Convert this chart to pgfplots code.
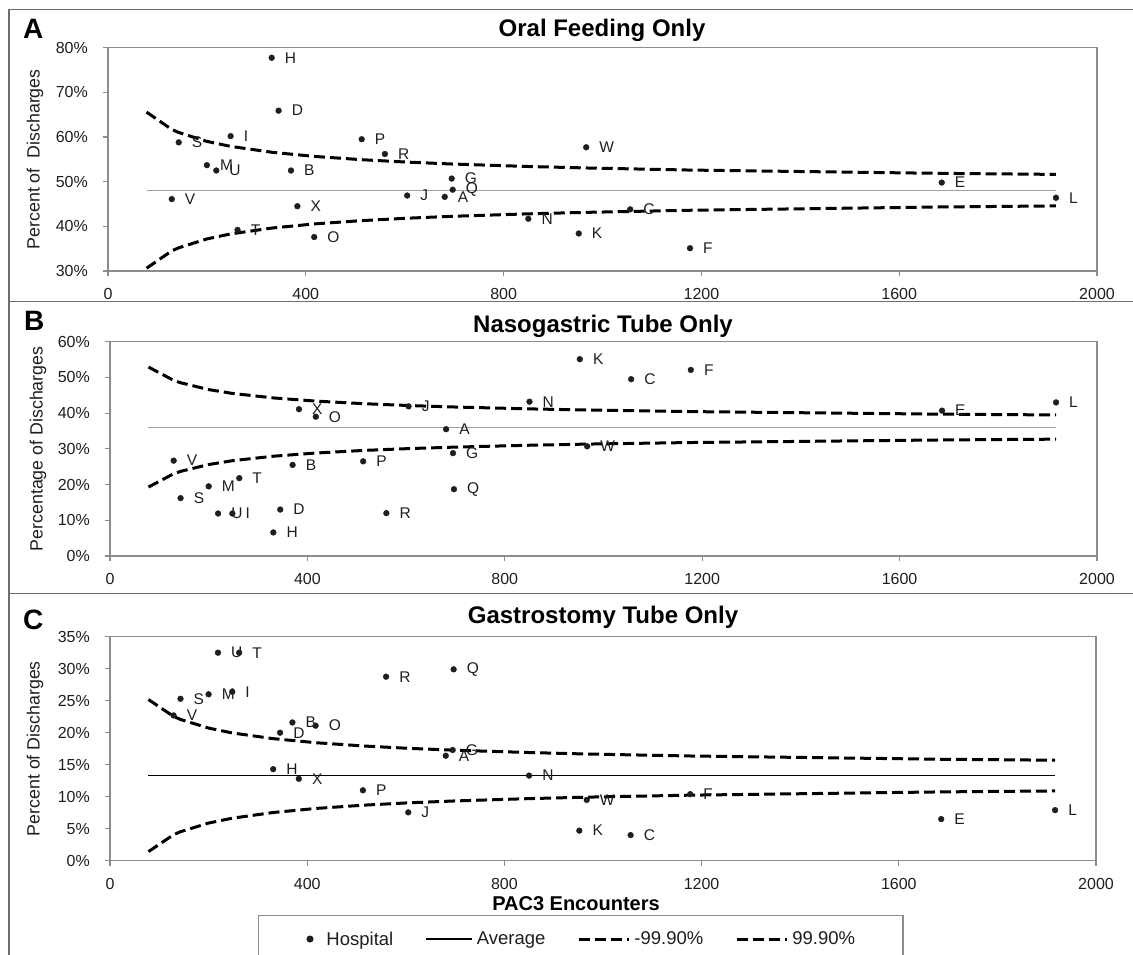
\documentclass[border=0pt]{standalone}
\usepackage{fontspec}
\setmainfont{Liberation Sans}
\usepackage{pgfplots}
\usepackage{pgfplotstable}
\pgfplotsset{compat=1.18}

\definecolor{axgray}{HTML}{8C8C8C}
\definecolor{framegray}{HTML}{6E6E6E}
\definecolor{avggray}{HTML}{A0A0A0}
\definecolor{ink}{HTML}{1E1E1E}

% hospital: encounters, % oral, % nasogastric, % gastrostomy
\pgfplotstableread{
lab n oral naso gastro
A 681 46.6 35.5 16.4
B 370 52.5 25.5 21.6
C 1056 43.8 49.5 4.0
D 345 65.9 13.0 20.0
E 1686 49.8 40.7 6.5
F 1177 35.1 52.1 10.4
G 695 50.7 28.8 17.3
H 331 77.75 6.6 14.3
I 248 60.2 11.9 26.4
J 605 46.9 41.9 7.55
K 952 38.4 55.1 4.7
L 1917 46.4 43.0 7.9
M 200 53.7 19.5 26.0
N 850 41.7 43.2 13.3
O 417 37.6 39.0 21.1
P 513 59.5 26.5 11.0
Q 697 48.2 18.7 29.9
R 560 56.2 12.0 28.75
S 143 58.8 16.2 25.3
T 262 39.2 21.8 32.5
U 219 52.5 11.9 32.5
V 129 46.1 26.7 22.7
W 967 57.7 30.7 9.5
X 383 44.5 41.1 12.8
}\hosp

% control limits (lower / upper) for each panel
\pgfplotstableread{
n aLo aHi bLo bHi cLo cHi
78 30.62 65.58 19.30 52.90 1.42 25.18
129 34.51 61.69 23.03 49.17 4.06 22.54
143 35.19 61.01 23.69 48.51 4.53 22.07
200 37.18 59.02 25.61 46.59 5.88 20.72
248 38.30 57.90 26.68 45.52 6.64 19.96
331 39.61 56.59 27.94 44.26 7.53 19.07
417 40.54 55.66 28.83 43.37 8.16 18.44
513 41.28 54.92 29.55 42.65 8.67 17.93
605 41.82 54.38 30.07 42.13 9.04 17.56
697 42.25 53.95 30.48 41.72 9.33 17.27
850 42.80 53.40 31.01 41.19 9.70 16.90
967 43.13 53.07 31.33 40.87 9.93 16.67
1177 43.60 52.60 31.77 40.43 10.24 16.36
1686 44.34 51.86 32.49 39.71 10.75 15.85
1917 44.57 51.63 32.71 39.49 10.90 15.70
}\lims

\pgfplotsset{
  panel/.style={
    scale only axis, clip=false,
    xmin=0, xmax=2000, xtick={0,400,800,1200,1600,2000},
    scaled ticks=false,
    /pgf/number format/1000 sep={},
    /pgf/number format/assume math mode=true,
    axis line style={draw=axgray, line width=1.3pt},
    tick style={draw=axgray, line width=1.2pt},
    major tick length=5pt, tick align=outside,
    xtick pos=bottom, ytick pos=left,
    ticklabel style={font=\fontsize{16}{19}\selectfont, text=ink},
    xticklabel style={anchor=north, inner sep=0pt, yshift=-12pt},
    yticklabel style={anchor=east, inner sep=0pt, xshift=-15pt},
    yticklabel={\pgfmathprintnumber{\tick}\%},
    ylabel style={font=\fontsize{17.8}{20}\selectfont, text=ink, anchor=center},
  },
  hosp/.style={only marks, mark=*, mark size=2.9pt, color=ink,
    nodes near coords, point meta=explicit symbolic,
    every node near coord/.append style={anchor=west, inner sep=0pt, xshift=13pt,
      font=\fontsize{15.5}{18}\selectfont, text=ink},
    legend image code/.code={\fill[ink] (0pt,0pt) circle (2.9pt);}},
  lim/.style={black, line width=3pt, dash pattern=on 11pt off 5pt, mark=none,
    legend image code/.code={\draw[##1] (0pt,0pt) -- (50pt,0pt);}},
  avg/.style={mark=none, legend image code/.code={\draw[##1] (0pt,0pt) -- (46pt,0pt);}},
}

\begin{document}
\begin{tikzpicture}
\useasboundingbox (0pt,0pt) rectangle (1133pt,954pt);

% panel A
\begin{axis}[panel, at={(108pt,683pt)}, anchor=south west,
  width=989pt, height=223.3pt,
  ymin=30, ymax=80, ytick={30,40,...,80},
  ylabel={Percent of\ \ Discharges},
  ylabel style={at={(axis description cs:-0.0738,0.5)}}]
\addplot[lim] table[x=n, y=aHi] {\lims};
\addplot[lim] table[x=n, y=aLo] {\lims};
\addplot[avg, avggray, line width=1pt] coordinates {(78,48.1) (1917,48.1)};
\addplot[hosp] table[x=n, y=oral, meta=lab] {\hosp};
\end{axis}

% panel B
\begin{axis}[panel, at={(110pt,398pt)}, anchor=south west,
  width=987pt, height=214.3pt,
  ymin=0, ymax=60, ytick={0,10,...,60},
  ylabel={Percentage of Discharges},
  ylabel style={at={(axis description cs:-0.0729,0.5)}}]
\addplot[lim] table[x=n, y=bHi] {\lims};
\addplot[lim] table[x=n, y=bLo] {\lims};
\addplot[avg, avggray, line width=1pt] coordinates {(78,36.1) (1917,36.1)};
\addplot[hosp] table[x=n, y=naso, meta=lab] {\hosp};
\end{axis}

% panel C
\begin{axis}[panel, at={(110pt,93.3pt)}, anchor=south west,
  width=986pt, height=224pt,
  ymin=0, ymax=35, ytick={0,5,...,35},
  ylabel={Percent of Discharges},
  ylabel style={at={(axis description cs:-0.0761,0.5)}},
  legend style={at={(axis description cs:0.1500,-0.2424)}, anchor=north west,
    draw=axgray, line width=1.2pt, font=\fontsize{18.5}{22}\selectfont, text=ink,
    inner xsep=48pt, inner ysep=16pt, nodes={inner sep=0pt},
    /tikz/every odd column/.append style={column sep=4pt},
    /tikz/every even column/.append style={column sep=32pt}},
  legend columns=4, reverse legend]
\addplot[lim] table[x=n, y=cHi] {\lims};
\addlegendentry{99.90\%}
\addplot[lim] table[x=n, y=cLo] {\lims};
\addlegendentry{-99.90\%}
\addplot[avg, black, line width=1.5pt] coordinates {(78,13.3) (1917,13.3)};
\addlegendentry{Average}
\addplot[hosp] table[x=n, y=gastro, meta=lab] {\hosp};
\addlegendentry{\hspace{9pt}Hospital}
\end{axis}

% frame and separators
\draw[framegray, line width=1.5pt] (9pt,-5pt) -- (9pt,944.7pt) -- (1140pt,944.7pt);
\draw[framegray, line width=1.5pt] (9pt,652.3pt) -- (1140pt,652.3pt);
\draw[framegray, line width=1.5pt] (9pt,360.7pt) -- (1140pt,360.7pt);

% panel letters and titles
\node[anchor=base west, inner sep=0pt, font=\bfseries\fontsize{28}{32}\selectfont] at (23pt,915pt) {A};
\node[anchor=base west, inner sep=0pt, font=\bfseries\fontsize{28}{32}\selectfont] at (24pt,623pt) {B};
\node[anchor=base west, inner sep=0pt, font=\bfseries\fontsize{28}{32}\selectfont] at (23pt,324pt) {C};
\node[anchor=base, inner sep=0pt, font=\bfseries\fontsize{24}{28}\selectfont] at (602pt,917pt) {Oral Feeding Only};
\node[anchor=base, inner sep=0pt, font=\bfseries\fontsize{24}{28}\selectfont] at (603pt,621pt) {Nasogastric Tube Only};
\node[anchor=base, inner sep=0pt, font=\bfseries\fontsize{24}{28}\selectfont] at (603pt,330pt) {Gastrostomy Tube Only};
\node[anchor=base, inner sep=0pt, font=\bfseries\fontsize{20}{24}\selectfont] at (576pt,44pt) {PAC3 Encounters};
\end{tikzpicture}
\end{document}
